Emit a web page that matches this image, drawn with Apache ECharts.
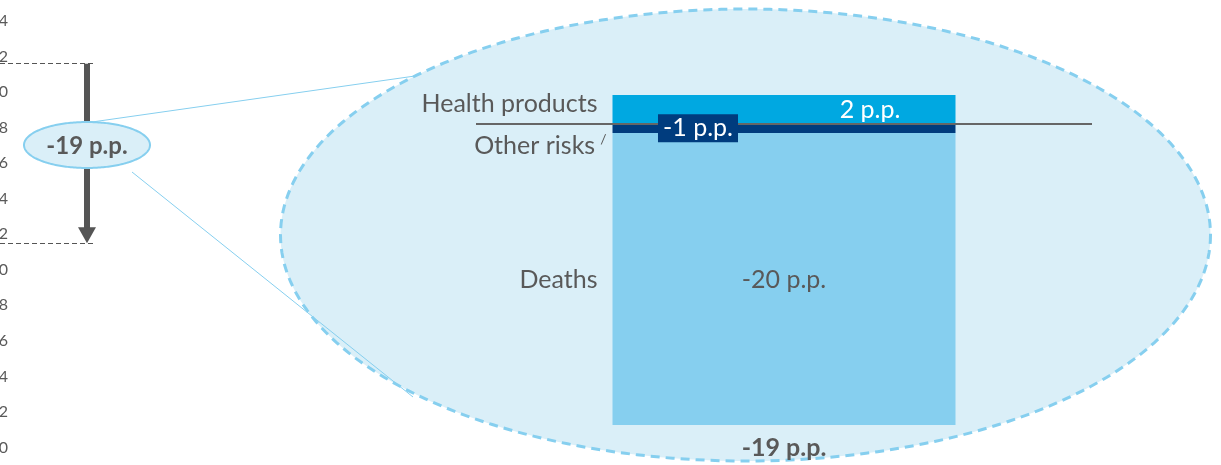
<!DOCTYPE html>
<html lang="en">
<head>
    <meta charset="UTF-8">
    <title>Change decomposition</title>
    <style>html, body { margin: 0; padding: 0; background: #fff; }</style>
</head>
<body>
<div class="main" style="width: 1221px;height: 465px"></div>
<script src="https://cdn.jsdelivr.net/npm/echarts@6/dist/echarts.min.js"></script>
<script>
    // left axis
    var yMin = 60, yMax = 84, yStep = 2;
    var startLevel = 81.6, endLevel = 71.5;

    // zoomed decomposition
    var parts = ['Health products', 'Other risks', 'Deaths'];
    var contributions = [2.0, -0.65, -20.4];

    var FONT = 'Lato, sans-serif';
    var TEXT = '#595959';
    var partColors = ['#00a8e1', '#003c7e', '#86cfef'];

    function fmt(v) { return Math.round(v) + ' p.p.'; }

    var net = contributions.reduce(function (a, b) { return a + b; }, 0);
    var posTop = 0, negTop = 0;
    var mids = contributions.map(function (v) {
        if (v >= 0) { posTop += v; return posTop - v / 2; }
        negTop += v; return negTop - v / 2;
    });

    function ellipse(cx, cy, rx, ry) {
        var pts = [];
        for (var i = 0; i < 240; i++) {
            var a = i / 240 * Math.PI * 2;
            pts.push([cx + rx * Math.cos(a), cy + ry * Math.sin(a)]);
        }
        return pts;
    }

    var main = document.querySelector('.main');
    var chart = echarts.init(main);

    var gridTop = 21, gridH = 426.5;
    var tipPad = 8 * (yMax - yMin) / gridH;

    // per-part label tweaks
    var nameOffset = [[0, -5], [0, 18], [0, 1]];
    var nameDist = [15, 6, 15];
    var valueLabel = [
        { offset: [86, 1], color: '#fff' },
        { offset: [-86, 0], color: '#fff', backgroundColor: '#003c7e', padding: [2, 5, 1, 5] },
        { offset: [0, 1], color: TEXT }
    ];

    var barSeries = parts.map(function (name, i) {
        var s = {
            type: 'bar',
            name: name,
            xAxisIndex: 1,
            yAxisIndex: 1,
            stack: 'total',
            barWidth: 343,
            data: [contributions[i]],
            itemStyle: { color: partColors[i] },
            label: {
                show: true,
                position: 'left',
                distance: nameDist[i],
                offset: nameOffset[i],
                formatter: i === 1 ? '{a}{s|/}' : '{a}',
                color: TEXT,
                fontSize: 25,
                fontFamily: FONT,
                rich: { s: { fontSize: 14, color: TEXT, verticalAlign: 'top', padding: [0, 0, 14, 5], fontFamily: FONT } }
            },
            markPoint: {
                z: 6,
                symbol: 'rect',
                symbolSize: 1,
                itemStyle: { color: 'rgba(0,0,0,0)' },
                label: Object.assign({
                    show: true,
                    position: 'inside',
                    fontSize: 25,
                    fontFamily: FONT,
                    formatter: function (p) { return fmt(p.value); }
                }, valueLabel[i]),
                data: [{ coord: [0, mids[i]], value: contributions[i] }]
            }
        };
        if (i === parts.length - 1) {
            s.markLine = {
                z: 4,
                silent: true,
                symbol: 'none',
                label: { show: false },
                lineStyle: { color: '#666', width: 2, type: 'solid' },
                data: [{ yAxis: 0 }]
            };
        }
        return s;
    });

    var option = {
        animation: false,
        grid: [
            { left: 0, top: gridTop, width: 160, height: gridH, outerBoundsMode: 'none', containLabel: false },
            { left: 476, top: 95, width: 616, height: 330, outerBoundsMode: 'none', containLabel: false }
        ],
        xAxis: [
            { type: 'value', gridIndex: 0, min: 0, max: 160, show: false },
            {
                type: 'category', gridIndex: 1, data: [fmt(net)],
                axisLine: { show: false, onZero: false }, axisTick: { show: false },
                axisLabel: { margin: 10, color: TEXT, fontSize: 25, fontWeight: 'bold', fontFamily: FONT }
            }
        ],
        yAxis: [
            {
                type: 'value', gridIndex: 0, min: yMin, max: yMax, interval: yStep, offset: -12,
                axisLine: { show: false }, axisTick: { show: false }, splitLine: { show: false },
                axisLabel: { margin: 4, color: TEXT, fontSize: 16, fontFamily: FONT }
            },
            {
                type: 'value', gridIndex: 1, min: negTop, max: posTop, show: false,
                splitLine: { show: false }
            }
        ],
        graphic: [
            {
                type: 'polygon', z: 0,
                shape: { points: ellipse(745.5, 235, 465, 226) },
                style: { fill: '#daeff8', stroke: '#86cfef', lineWidth: 3, lineDash: [9, 6] }
            },
            { type: 'line', z: 1, shape: { x1: 92, y1: 122, x2: 415, y2: 76 }, style: { stroke: '#86cfef', lineWidth: 1 } },
            { type: 'line', z: 1, shape: { x1: 132, y1: 172, x2: 413, y2: 397 }, style: { stroke: '#86cfef', lineWidth: 1 } },
            {
                type: 'polygon', z: 10,
                shape: { points: ellipse(87, 145, 63, 23) },
                style: { fill: '#daeff8', stroke: '#86cfef', lineWidth: 2 }
            },
            {
                type: 'text', z: 11, x: 87, y: 146,
                style: {
                    text: fmt(net), fill: TEXT, font: 'bold 24px ' + FONT,
                    align: 'center', verticalAlign: 'middle'
                }
            }
        ],
        series: [
            {
                type: 'line', xAxisIndex: 0, yAxisIndex: 0,
                data: [[87, startLevel]], showSymbol: false, symbol: 'none',
                lineStyle: { opacity: 0 },
                markLine: {
                    silent: true,
                    symbol: ['none', 'triangle'],
                    symbolSize: [18, 16],
                    label: { show: false },
                    lineStyle: { color: '#555', width: 6, type: 'solid' },
                    data: [[{ coord: [87, startLevel] }, { coord: [87, endLevel + tipPad] }]]
                }
            },
            {
                type: 'line', xAxisIndex: 0, yAxisIndex: 0,
                data: [[0, startLevel]], showSymbol: false, symbol: 'none',
                lineStyle: { opacity: 0 },
                markLine: {
                    silent: true,
                    symbol: 'none',
                    label: { show: false },
                    lineStyle: { color: '#555', width: 1, type: [5, 3] },
                    data: [
                        [{ coord: [0, startLevel] }, { coord: [95, startLevel] }],
                        [{ coord: [0, endLevel] }, { coord: [95, endLevel] }]
                    ]
                }
            }
        ].concat(barSeries)
    };

    chart.setOption(option);
</script>
</body>
</html>
